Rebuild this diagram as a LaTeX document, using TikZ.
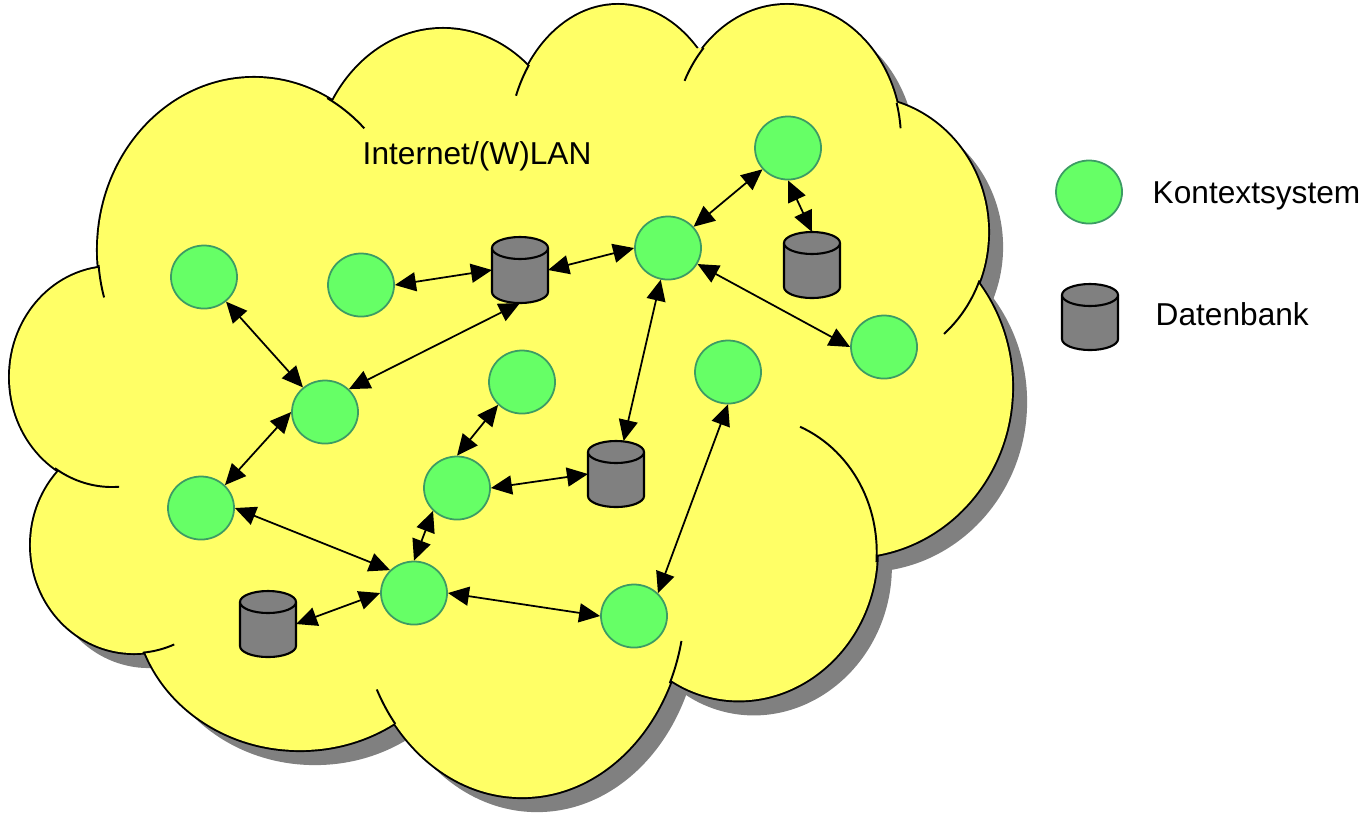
\documentclass[tikz,border=0pt]{standalone}
\usepackage{fontspec}
\setmainfont{Liberation Sans}
\usetikzlibrary{shapes.geometric,arrows.meta}

\definecolor{cloudyellow}{RGB}{255,255,102}
\definecolor{cloudshadow}{RGB}{128,128,128}
\definecolor{ksgreen}{RGB}{102,255,102}
\definecolor{ksborder}{RGB}{60,155,100}
\definecolor{dbgray}{RGB}{128,128,128}

% the lobes of the cloud (one pass per style)
\newcommand{\cloudlobes}[1]{%
  \path[#1] (112,377) ellipse[x radius=1.02cm, y radius=1.10cm];
  \path[#1] (254,250) ellipse[x radius=1.56cm, y radius=1.72cm];
  \path[#1] (443,180) ellipse[x radius=1.29cm, y radius=1.51cm];
  \path[#1] (618,150) ellipse[x radius=1.10cm, y radius=1.45cm];
  \path[#1] (787,140) ellipse[x radius=1.14cm, y radius=1.35cm];
  \path[#1] (860,232) ellipse[x radius=1.28cm, y radius=1.35cm];
  \path[#1] (850,387) ellipse[x radius=1.62cm, y radius=1.70cm];
  \path[#1, rotate around={-14.8:(744,558)}] (744,558) ellipse[x radius=1.32cm, y radius=1.43cm];
  \path[#1] (522,600) ellipse[x radius=1.63cm, y radius=1.97cm];
  \path[#1] (300,600) ellipse[x radius=1.65cm, y radius=1.50cm];
  \path[#1] (134,545) ellipse[x radius=1.03cm, y radius=1.08cm];
}

% database symbol drawn over its node
\newcommand{\dbcylinder}[1]{%
  \draw[dbbody] ([yshift=-0.11cm]#1.north west) -- ([yshift=0.11cm]#1.south west)
    arc[start angle=180, end angle=360, x radius=0.28cm, y radius=0.11cm]
    -- ([yshift=-0.11cm]#1.north east)
    arc[start angle=0, end angle=180, x radius=0.28cm, y radius=0.11cm] -- cycle;
  \draw[dbbody] ([yshift=-0.11cm]#1.north west)
    arc[start angle=180, end angle=360, x radius=0.28cm, y radius=0.11cm];
}

\begin{document}
\begin{tikzpicture}[x=0.01cm, y=-0.01cm,
    font=\fontsize{9}{11}\selectfont,
    cloudarc/.style={line width=0.55pt},
    kontext/.style={ellipse, draw=ksborder, line width=0.5pt, fill=ksgreen,
      minimum width=0.66cm, minimum height=0.63cm, inner sep=0pt},
    datenbank/.style={rectangle, inner sep=0pt, outer sep=0pt,
      minimum width=0.56cm, minimum height=0.66cm},
    dbbody/.style={draw, line width=0.6pt, fill=dbgray},
    link/.style={{Triangle[length=0.21cm,width=0.19cm]}-{Triangle[length=0.21cm,width=0.19cm]},
      line width=0.5pt},
    label/.style={anchor=base west, inner sep=0pt}]

  \useasboundingbox (0,0) rectangle (1371,814);

  % Cloud: shadow, outline, filling
  \begin{scope}[shift={(15,15)}]
    \cloudlobes{fill=cloudshadow}
  \end{scope}
  \cloudlobes{draw, line width=1.1pt}
  \cloudlobes{fill=cloudyellow}
  \fill[cloudyellow] (100,269) -- (335,100) -- (530,67) -- (700,48) -- (897,107)
    -- (980,287) -- (876,557) -- (672,680) -- (390,723) -- (145,652)
    -- (58,470) -- cycle;

  % inner arcs of the cloud
  \draw[cloudarc] plot[domain=86:124, samples=20] ({112+102*cos(\x)},{377+110*sin(\x)});
  \draw[cloudarc] plot[domain=164:175, samples=10] ({254+156*cos(\x)},{250+172*sin(\x)});
  \draw[cloudarc] plot[domain=-62:-45, samples=10] ({254+156*cos(\x)},{250+172*sin(\x)});
  \draw[cloudarc] plot[domain=-158:-144, samples=10] ({618+110*cos(\x)},{150+145*sin(\x)});
  \draw[cloudarc] plot[domain=-154:-137, samples=10] ({787+114*cos(\x)},{140+135*sin(\x)});
  \draw[cloudarc] plot[domain=-16:-5, samples=10] ({787+114*cos(\x)},{140+135*sin(\x)});
  \draw[cloudarc] plot[domain=21:49, samples=15] ({860+128*cos(\x)},{232+135*sin(\x)});
  \draw[cloudarc] plot[domain=-81:-12, samples=30]
    ({744+132*cos(\x)*0.9668-143*sin(\x)*0.2554},{558+132*cos(\x)*0.2554+143*sin(\x)*0.9668});
  \draw[cloudarc] plot[domain=12:25, samples=10] ({522+163*cos(\x)},{600+197*sin(\x)});
  \draw[cloudarc] plot[domain=141:153, samples=10] ({522+163*cos(\x)},{600+197*sin(\x)});
  \draw[cloudarc] plot[domain=67:85, samples=10] ({134+103*cos(\x)},{545+108*sin(\x)});

  \node[label] (wlan) at (362,164) {Internet/(W)LAN};

  % Kontextsysteme
  \node[kontext] (ks1) at (204,277) {};
  \node[kontext] (ks2) at (361,285) {};
  \node[kontext] (ks3) at (788,148) {};
  \node[kontext] (ks4) at (668,248) {};
  \node[kontext] (ks5) at (884,347) {};
  \node[kontext] (ks6) at (325,412) {};
  \node[kontext] (ks7) at (522,382) {};
  \node[kontext] (ks8) at (728,372) {};
  \node[kontext] (ks9) at (457,488) {};
  \node[kontext] (ks10) at (201,508) {};
  \node[kontext] (ks11) at (414,593) {};
  \node[kontext] (ks12) at (634,616) {};

  % Datenbanken
  \node[datenbank] (db1) at (520,270) {};
  \node[datenbank] (db2) at (812,265) {};
  \node[datenbank] (db3) at (616,474) {};
  \node[datenbank] (db4) at (268,624) {};
  \dbcylinder{db1}
  \dbcylinder{db2}
  \dbcylinder{db3}
  \dbcylinder{db4}

  % Verbindungen
  \draw[link] (ks2.east) -- (db1.west);
  \draw[link] (db1.east) -- (ks4.west);
  \draw[link] (ks4) -- (ks3);
  \draw[link] (ks3.south) -- (db2.north);
  \draw[link] (ks4) -- (ks5.west);
  \draw[link] (ks4) -- (db3);
  \draw[link] (db1.south) -- (ks6.north east);
  \draw[link] (ks1) -- (ks6);
  \draw[link] (ks6.west) -- (ks10.north east);
  \draw[link] (ks7.south west) -- (ks9.north);
  \draw[link] (ks9.east) -- (db3.west);
  \draw[link] (ks9.south west) -- (ks11.north);
  \draw[link] (ks10.east) -- (ks11.north west);
  \draw[link] (db4.east) -- (ks11.west);
  \draw[link] (ks11.east) -- (ks12.west);
  \draw[link] (ks8.south) -- (ks12.north east);

  % Legende
  \node[kontext] (ksLegend) at (1089,192) {};
  \node[label] (ksText) at (1152,203) {Kontextsystem};
  \node[datenbank] (dbLegend) at (1090,317) {};
  \dbcylinder{dbLegend}
  \node[label] (dbText) at (1155,325) {Datenbank};

\end{tikzpicture}
\end{document}
